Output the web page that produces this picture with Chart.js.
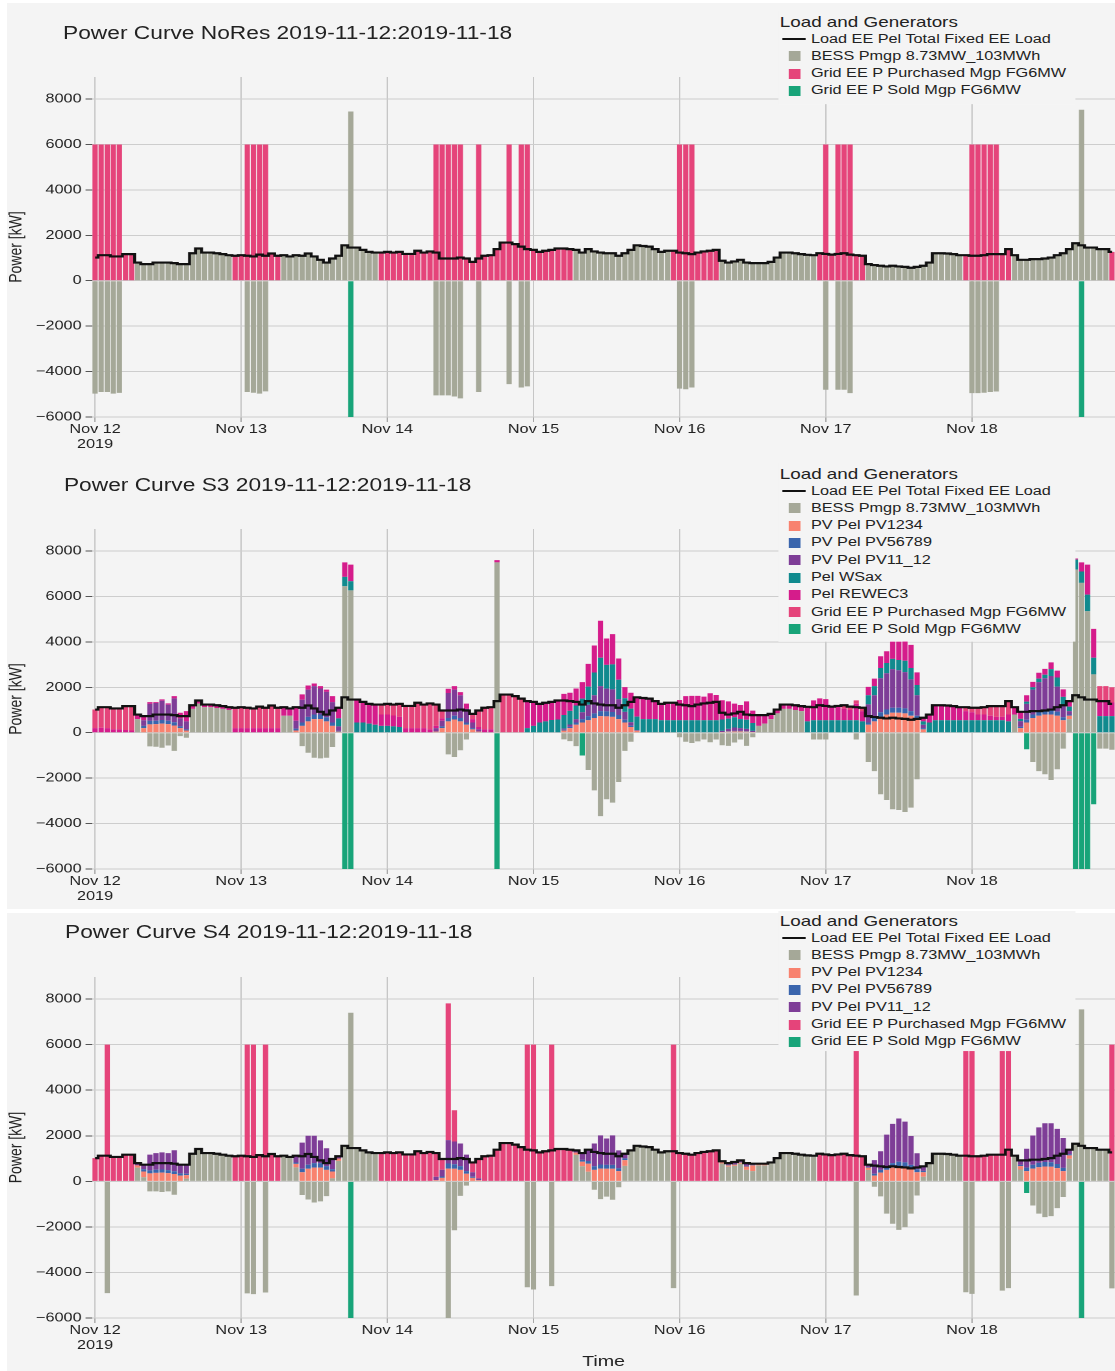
<!DOCTYPE html>
<html>
<head>
<meta charset="utf-8">
<script src="https://cdn.jsdelivr.net/npm/chart.js@4.4.1/dist/chart.umd.min.js"></script>
<style>
  html, body { margin:0; padding:0; background:#ffffff; width:1115px; height:1371px; overflow:hidden;
    font-family:"Liberation Sans", Arial, Helvetica, sans-serif; color:#222; }
  .panel { position:absolute; left:7px; width:1108px; background:#f4f4f4; }
  .wrap { position:absolute; left:0; width:858px; transform:scaleX(1.29953); transform-origin:0 0; }
  .wrap canvas { position:absolute; left:0; top:0; }
  .title { position:absolute; font-size:17.5px; line-height:18px; white-space:nowrap; color:#222; }
  .legend { position:absolute; left:598.5px; width:228.5px; background:#f4f4f4; }
  .lg-title { position:absolute; left:1.5px; font-size:14.5px; line-height:15px; white-space:nowrap; color:#222; }
  .lg-row { position:absolute; left:0; width:100%; height:17px; }
  .lg-row .t { position:absolute; left:25.5px; top:1px; font-size:12.5px; line-height:15px; white-space:nowrap; color:#222; }
  .lg-row .sw { position:absolute; left:8.5px; top:3.5px; width:9px; height:10px; }
  .lg-row .ln { position:absolute; left:3px; top:7.5px; width:18.5px; height:2px; background:#111; }
</style>
</head>
<body>
<div class="panel" style="top:3px;height:452px"></div>
<div class="panel" style="top:455px;height:454px"></div>
<div class="panel" style="top:913px;height:458px"></div>

<div class="wrap" id="w1" style="top:0px;height:455px">
  <canvas id="c1" width="858" height="455"></canvas>
  <div class="title" style="left:48.5px;top:24px">Power Curve NoRes 2019-11-12:2019-11-18</div>
</div>
<div class="wrap" id="w2" style="top:455px;height:452px">
  <canvas id="c2" width="858" height="452"></canvas>
  <div class="title" style="left:49.2px;top:21px">Power Curve S3 2019-11-12:2019-11-18</div>
</div>
<div class="wrap" id="w3" style="top:910px;height:461px">
  <canvas id="c3" width="858" height="461"></canvas>
  <div class="title" style="left:50px;top:13px">Power Curve S4 2019-11-12:2019-11-18</div>
</div>

<script>
// ---------- time axis ----------
const dayLabels = [['Nov 12', '2019'], 'Nov 13', 'Nov 14', 'Nov 15', 'Nov 16', 'Nov 17', 'Nov 18'];
const powerTicks = [-6000, -4000, -2000, 0, 2000, 4000, 6000, 8000];
const hourLabels = [];
for (let d = 0; d < 7; d++) {
  for (let h = 0; h < 24; h++) {
    hourLabels.push('2019-11-' + (12 + d) + ' ' + String(h).padStart(2, '0') + ':00');
  }
}

// ---------- hourly load, kW (Nov 12 .. Nov 18, one row per day) ----------
const load = [
  1020,1125,1125,1070,1070,1170,1170,800,730,730,800,800,800,775,730,730,1210,1420,1240,1240,1210,1170,1125,1100,
  1125,1100,1070,1150,1100,1200,1100,1125,1070,1125,1100,1200,1070,920,800,980,1100,1560,1460,1460,1360,1270,1240,1240,
  1270,1240,1270,1180,1180,1320,1240,1290,1240,980,980,980,1020,980,830,980,1100,1125,1390,1680,1680,1610,1500,1390,
  1360,1270,1320,1360,1420,1420,1390,1360,1240,1390,1290,1240,1210,1210,1100,1210,1360,1560,1530,1500,1390,1270,1320,1320,
  1240,1210,1170,1240,1290,1320,1360,880,800,850,920,800,775,775,775,830,1020,1240,1240,1210,1170,1140,1125,1210,
  1180,1150,1180,1210,1150,1125,1100,730,690,660,630,660,630,610,570,610,660,800,1210,1210,1200,1170,1125,1125,
  1100,1100,1125,1170,1170,1170,1390,1125,920,920,950,950,980,1020,1125,1210,1390,1650,1560,1460,1460,1390,1390,1270
];

// ---------- scenario NoRes ----------
const noresBess = [
  -4970,-4900,-4900,-4970,-4940,0,0,800,730,730,800,800,800,775,730,730,1210,1420,1240,1240,1210,1170,1125,0,
  0,-4900,-4930,-4970,-4870,0,0,1125,1070,1125,1100,1200,1070,920,800,980,1100,1560,7450,1460,1360,1270,1240,0,
  0,0,0,0,0,0,0,0,-5050,-5050,-5050,-5100,-5180,0,0,-4900,0,0,0,0,-4550,0,-4700,-4650,
  0,0,0,0,0,0,0,1360,1240,1390,1290,1240,1210,1210,1100,1210,1360,1560,1530,1500,1390,1270,1320,0,
  -4750,-4780,-4700,0,0,0,0,880,800,850,920,800,775,775,775,830,1020,1240,1240,1210,1170,1140,1125,0,
  -4800,0,-4800,-4800,-4950,0,0,730,690,660,630,660,630,610,570,610,660,800,1210,1210,1200,1170,1125,0,
  -4950,-4950,-4930,-4900,-4880,0,0,1125,920,920,950,950,980,1020,1125,1210,1390,1650,7530,1460,1460,1390,1390,0
];
const noresPurchased = [
  6000,6000,6000,6000,6000,1170,1170,0,0,0,0,0,0,0,0,0,0,0,0,0,0,0,0,1100,
  1125,6000,6000,6000,6000,1200,1100,0,0,0,0,0,0,0,0,0,0,0,0,0,0,0,0,1240,
  1270,1240,1270,1180,1180,1320,1240,1290,6000,6000,6000,6000,6000,980,830,6000,1100,1125,1390,1680,6000,1610,6000,6000,
  1360,1270,1320,1360,1420,1420,1390,0,0,0,0,0,0,0,0,0,0,0,0,0,0,0,0,1320,
  6000,6000,6000,1240,1290,1320,1360,0,0,0,0,0,0,0,0,0,0,0,0,0,0,0,0,1210,
  6000,1150,6000,6000,6000,1125,1100,0,0,0,0,0,0,0,0,0,0,0,0,0,0,0,0,1125,
  6000,6000,6000,6000,6000,1170,1390,0,0,0,0,0,0,0,0,0,0,0,0,0,0,0,0,1270
];
const noresSold = [
  0,0,0,0,0,0,0,0,0,0,0,0,0,0,0,0,0,0,0,0,0,0,0,0,
  0,0,0,0,0,0,0,0,0,0,0,0,0,0,0,0,0,0,-6000,0,0,0,0,0,
  0,0,0,0,0,0,0,0,0,0,0,0,0,0,0,0,0,0,0,0,0,0,0,0,
  0,0,0,0,0,0,0,0,0,0,0,0,0,0,0,0,0,0,0,0,0,0,0,0,
  0,0,0,0,0,0,0,0,0,0,0,0,0,0,0,0,0,0,0,0,0,0,0,0,
  0,0,0,0,0,0,0,0,0,0,0,0,0,0,0,0,0,0,0,0,0,0,0,0,
  0,0,0,0,0,0,0,0,0,0,0,0,0,0,0,0,0,0,-6000,0,0,0,0,0
];

// ---------- scenario S3 ----------
const s3Bess = [
  0,0,0,0,0,0,0,600,0,-600,-620,-660,-560,-800,-150,-220,1050,1280,1120,1120,1090,1050,1000,0,
  0,0,0,0,0,0,0,750,750,0,-590,-880,-1100,-1130,-1100,-630,0,6450,6270,0,0,0,0,0,
  0,0,0,0,0,0,0,0,0,0,-955,-1070,-770,-300,0,0,0,0,7500,0,0,0,0,0,
  0,0,0,0,0,-290,-370,-590,0,-1640,-2540,-3670,-2930,-3080,-2170,-800,-400,0,0,0,0,0,0,0,
  -200,-400,-450,-380,-300,-420,-300,-550,-580,-430,-300,-580,-200,300,400,600,850,1050,1050,1000,950,0,-300,-300,
  -300,0,0,0,0,-300,0,-1290,-1690,-2710,-2960,-3370,-3400,-3490,-3300,-2050,0,0,0,0,0,0,0,0,
  0,0,0,0,0,0,0,800,0,0,-1290,-1690,-1830,-2080,-1610,-700,600,7180,6600,5350,2570,-700,-700,-750
];
const s3Pv1234 = [
  0,0,0,0,0,0,0,0,200,370,380,400,380,320,200,100,0,0,0,0,0,0,0,0,
  0,0,0,0,0,0,0,0,0,100,300,500,600,600,500,300,50,0,0,0,0,0,0,0,
  0,0,0,0,0,0,0,0,50,200,500,580,500,350,150,50,0,0,0,0,0,0,0,0,
  0,0,0,0,0,100,200,350,450,550,650,730,720,700,600,450,250,80,0,0,0,0,0,0,
  0,0,0,0,0,0,0,30,50,60,60,50,30,0,0,0,0,0,0,0,0,0,0,0,
  0,0,0,0,0,0,0,350,500,700,800,880,880,850,750,600,150,0,0,0,0,0,0,0,
  0,0,0,0,0,0,0,0,200,450,650,750,800,800,750,550,150,0,0,0,0,0,0,0
];
const s3Pv56789 = [
  0,0,0,0,0,0,0,0,100,150,150,160,150,140,80,50,0,0,0,0,0,0,0,0,
  0,0,0,0,0,0,0,0,0,80,150,200,200,200,180,150,30,0,0,0,0,0,0,0,
  0,0,0,0,0,0,0,0,0,80,150,170,150,100,50,0,0,0,0,0,0,0,0,0,
  0,0,0,0,0,30,60,100,150,180,200,220,220,210,180,120,60,0,0,0,0,0,0,0,
  0,0,0,0,0,0,0,0,20,20,20,20,0,0,0,0,0,0,0,0,0,0,0,0,
  0,0,0,0,0,0,0,100,150,200,220,220,220,220,200,150,50,0,0,0,0,0,0,0,
  0,0,0,0,0,0,0,0,60,120,150,180,200,200,180,130,50,0,0,0,0,0,0,0
];
const s3Pv11_12 = [
  0,0,0,0,0,0,0,0,250,750,780,850,700,1050,350,350,0,0,0,0,0,0,0,0,
  0,0,0,0,0,0,0,0,0,350,1000,1200,1250,1150,1120,900,200,0,0,0,0,0,0,0,
  0,0,0,0,0,0,0,0,150,250,1100,1150,1000,600,250,100,0,0,0,0,0,0,0,0,
  0,0,0,0,0,50,100,150,300,500,800,1100,1000,1000,700,350,150,30,0,0,0,0,0,0,
  0,0,0,0,0,0,0,50,100,150,120,100,50,0,0,0,0,0,0,0,0,0,0,0,
  0,0,0,0,0,0,0,800,1000,1500,1600,1700,1650,1600,1400,900,150,0,0,0,0,0,0,0,
  0,0,0,0,0,0,0,0,250,700,1100,1300,1400,1500,1100,500,150,0,0,0,0,0,0,0
];
const s3WSax = [
  0,0,0,0,0,0,0,0,0,0,0,0,0,0,0,0,0,0,0,0,0,0,0,0,
  0,0,0,0,0,0,0,0,0,0,0,0,0,0,0,0,350,410,400,450,450,400,350,300,
  300,280,250,0,0,0,0,0,0,0,0,0,0,0,0,0,0,0,0,0,0,0,0,200,
  300,450,500,560,580,600,600,600,600,800,1000,1250,1050,1100,850,600,600,600,600,600,600,550,550,550,
  550,550,550,550,550,550,550,500,450,450,400,400,350,0,0,0,0,0,0,0,0,500,550,550,
  550,550,550,550,550,550,500,400,400,450,450,450,450,500,500,450,150,450,550,550,550,550,550,550,
  550,550,550,550,550,550,500,0,100,100,100,150,150,300,400,400,200,440,500,730,730,730,730,730
];
const s3Rewec3 = [
  200,220,200,150,150,120,100,200,180,80,40,60,60,100,250,450,160,140,120,120,120,120,125,200,
  200,200,200,200,200,200,200,375,320,600,240,180,120,100,100,260,470,640,730,1010,910,870,890,500,
  500,480,450,200,200,200,200,150,100,100,185,150,140,230,150,100,150,150,100,0,0,0,0,1190,
  1060,820,820,800,840,930,800,750,730,1000,1190,1630,1160,1330,940,490,700,850,930,900,790,720,770,770,
  890,1060,1070,1070,1040,1190,1110,850,760,600,620,810,545,475,375,230,170,190,190,210,220,640,875,960,
  930,600,630,510,450,725,450,370,330,520,520,780,830,930,1020,560,160,350,660,660,650,620,575,400,
  350,250,250,200,150,150,300,325,310,280,240,260,260,300,305,330,240,50,400,1320,1270,650,650,600
];
const s3Purchased = [
  820,905,925,920,920,1050,1070,0,0,0,0,0,0,0,0,0,0,0,0,0,0,0,0,900,
  925,900,870,950,900,1000,900,0,0,0,0,0,0,0,0,0,0,0,0,0,0,0,0,440,
  470,480,570,980,980,1120,1040,1140,940,350,0,0,0,0,230,730,950,975,0,1680,1680,1610,1500,0,
  0,0,0,0,0,0,0,0,0,0,0,0,0,0,0,0,0,0,0,0,0,0,0,0,
  0,0,0,0,0,0,0,0,0,0,0,0,0,0,0,0,0,0,0,0,0,0,0,0,
  0,0,0,150,150,150,150,0,0,0,0,0,0,0,0,0,0,0,0,0,0,0,0,175,
  200,300,325,420,470,470,590,0,0,0,0,0,0,0,0,0,0,0,0,0,0,670,670,670
];
const s3Sold = [
  0,0,0,0,0,0,0,0,0,0,0,0,0,0,0,0,0,0,0,0,0,0,0,0,
  0,0,0,0,0,0,0,0,0,0,0,0,0,0,0,0,0,-6000,-6000,0,0,0,0,0,
  0,0,0,0,0,0,0,0,0,0,0,0,0,0,0,0,0,0,-6000,0,0,0,0,0,
  0,0,0,0,0,0,0,0,-1000,0,0,0,0,0,0,0,0,0,0,0,0,0,0,0,
  0,0,0,0,0,0,0,0,0,0,0,0,0,0,0,0,0,0,0,0,0,0,0,0,
  0,0,0,0,0,0,0,0,0,0,0,0,0,0,0,0,0,0,0,0,0,0,0,0,
  0,0,0,0,0,0,0,0,0,-730,0,0,0,0,0,0,0,-6000,-6000,-6000,-3150,0,0,0
];

// ---------- scenario S4 ----------
const s4Bess = [
  0,0,-4910,0,0,0,0,600,180,-440,-440,-470,-440,-590,0,120,1210,1420,1240,1240,1210,1170,1125,0,
  0,-4920,-4950,0,-4880,0,0,1125,1070,615,-600,-800,-930,-880,-650,130,900,1560,7400,1460,1360,1270,1240,0,
  0,0,0,0,0,0,0,0,0,0,-6000,-2150,-640,-190,0,0,0,0,0,0,0,0,0,-4650,
  -4750,0,0,-4600,0,0,0,1160,660,420,-370,-780,-670,-810,-260,680,1360,1560,1530,1500,1390,1270,1320,-4690,
  0,0,0,0,0,0,0,780,640,680,770,500,450,700,700,780,1020,1240,1240,1210,1170,1140,1125,0,
  0,0,0,0,0,-5010,0,500,-240,-660,-1420,-1860,-2130,-2010,-1420,-620,200,800,1210,1210,1200,1170,1125,-4870,
  -4940,0,0,0,0,-4800,-4690,1125,520,0,-1060,-1420,-1570,-1530,-1175,-690,990,1650,7550,1460,1460,1390,1390,-4700
];
const s4Pv1234 = [
  0,0,0,0,0,0,0,100,250,350,370,380,360,320,250,150,0,0,0,0,0,0,0,0,
  0,0,0,0,0,0,0,0,0,150,400,550,600,600,500,300,100,0,0,0,0,0,0,0,
  0,0,0,0,0,0,0,0,50,150,560,550,500,330,150,50,0,0,0,0,0,0,0,0,
  0,0,0,0,0,0,0,100,200,350,500,560,550,550,450,250,0,0,0,0,0,0,0,0,
  0,0,0,0,0,0,0,50,60,60,50,150,250,50,50,30,0,0,0,0,0,0,0,0,
  0,0,0,0,0,0,0,100,250,380,500,600,650,630,550,400,200,0,0,0,0,0,0,0,
  0,0,0,0,0,0,0,0,150,450,560,620,650,640,580,450,150,0,0,0,0,0,0,0
];
const s4Pv56789 = [
  0,0,0,0,0,0,0,0,100,130,140,140,130,120,100,60,0,0,0,0,0,0,0,0,
  0,0,0,0,0,0,0,0,0,60,150,180,200,200,170,100,0,0,0,0,0,0,0,0,
  0,0,0,0,0,0,0,0,0,60,220,200,170,120,50,0,0,0,0,0,0,0,0,0,
  0,0,0,0,0,0,0,0,80,120,160,180,170,170,130,80,0,0,0,0,0,0,0,0,
  0,0,0,0,0,0,0,0,20,20,20,30,20,0,0,0,0,0,0,0,0,0,0,0,
  0,0,0,0,0,0,0,30,80,120,170,200,210,200,170,130,60,0,0,0,0,0,0,0,
  0,0,0,0,0,0,0,0,50,150,170,190,200,200,180,140,50,0,0,0,0,0,0,0
];
const s4Pv11_12 = [
  0,0,0,0,0,0,0,100,200,690,730,750,750,925,380,400,0,0,0,0,0,0,0,0,
  0,0,0,0,0,0,0,0,0,300,1150,1270,1200,1000,780,450,100,0,0,0,0,0,0,0,
  0,0,0,0,0,0,0,0,150,300,1030,1000,990,720,200,80,0,0,0,0,0,0,0,0,
  0,0,0,0,0,0,0,100,300,500,1000,1280,1160,1300,780,200,0,0,0,0,0,0,0,0,
  0,0,0,0,0,0,0,50,80,90,80,120,55,25,25,20,0,0,0,0,0,0,0,0,
  0,0,0,0,0,0,0,100,600,820,1380,1720,1900,1790,1270,700,200,0,0,0,0,0,0,0,
  0,0,0,0,0,0,0,0,200,830,1280,1560,1700,1710,1540,1310,200,0,0,0,0,0,0,0
];
const s4Purchased = [
  1020,1125,6000,1070,1070,1170,1170,0,0,0,0,0,0,0,0,0,0,0,0,0,0,0,0,1100,
  1125,6000,6000,1150,6000,1200,1100,0,0,0,0,0,0,0,0,0,0,0,0,0,0,0,0,1240,
  1270,1240,1270,1180,1180,1320,1240,1290,1040,470,6000,1370,0,0,430,850,1100,1125,1390,1680,1680,1610,1500,6000,
  6000,1270,1320,6000,1420,1420,1390,0,0,0,0,0,0,0,0,0,0,0,0,0,0,0,0,6000,
  1240,1210,1170,1240,1290,1320,1360,0,0,0,0,0,0,0,0,0,0,0,0,0,0,0,0,1210,
  1180,1150,1180,1210,1150,6000,1100,0,0,0,0,0,0,0,0,0,0,0,0,0,0,0,0,6000,
  6000,1100,1125,1170,1170,6000,6000,0,0,0,0,0,0,0,0,0,0,0,0,0,0,0,0,6000
];
const s4Sold = [
  0,0,0,0,0,0,0,0,0,0,0,0,0,0,0,0,0,0,0,0,0,0,0,0,
  0,0,0,0,0,0,0,0,0,0,0,0,0,0,0,0,0,0,-6000,0,0,0,0,0,
  0,0,0,0,0,0,0,0,0,0,0,0,0,0,0,0,0,0,0,0,0,0,0,0,
  0,0,0,0,0,0,0,0,0,0,0,0,0,0,0,0,0,0,0,0,0,0,0,0,
  0,0,0,0,0,0,0,0,0,0,0,0,0,0,0,0,0,0,0,0,0,0,0,0,
  0,0,0,0,0,0,0,0,0,0,0,0,0,0,0,0,0,0,0,0,0,0,0,0,
  0,0,0,0,0,0,0,0,0,-510,0,0,0,0,0,0,0,0,-6000,0,0,0,0,0
];

// ---------- series names and colours ----------
const NAMES = {
  load: 'Load EE Pel Total Fixed EE Load',
  bess: 'BESS Pmgp 8.73MW_103MWh',
  pv1: 'PV Pel PV1234',
  pv5: 'PV Pel PV56789',
  pv11: 'PV Pel PV11_12',
  wsax: 'Pel WSax',
  rewec: 'Pel REWEC3',
  buy: 'Grid EE P Purchased Mgp FG6MW',
  sell: 'Grid EE P Sold Mgp FG6MW'
};
const COLORS = {
  load: '#111111', bess: '#a5a898', pv1: '#f8826f', pv5: '#3a65ad', pv11: '#7e3d97',
  wsax: '#108a8e', rewec: '#d51c8b', buy: '#e5447a', sell: '#18a479'
};

Chart.defaults.font.family = '"Liberation Sans", Arial, Helvetica, sans-serif';
Chart.defaults.color = '#222';

function lineSet(data) {
  return { type: 'line', label: NAMES.load, data: data, borderColor: COLORS.load, borderWidth: 2.2,
           pointRadius: 0, stepped: 'middle', fill: false, order: 0 };
}
function barSet(key, data) {
  return { type: 'bar', label: NAMES[key], data: data, backgroundColor: COLORS[key], borderWidth: 0,
           barPercentage: 0.86, categoryPercentage: 1.0, order: 1 };
}
const minus = v => (v < 0 ? '\u2212' + Math.abs(v) : String(v));

function buildChart(id, datasets, padTop, axisHeight, showTime) {
  return new Chart(document.getElementById(id), {
    type: 'bar',
    data: { labels: hourLabels, datasets: datasets },
    options: {
      responsive: false, animation: false, devicePixelRatio: 2,
      layout: { padding: { top: padTop, left: 0, right: 0, bottom: 0 } },
      plugins: { legend: { display: false }, tooltip: { enabled: false }, title: { display: false } },
      scales: {
        x: {
          type: 'category', stacked: true, offset: true,
          border: { display: false },
          grid: {
            offset: false, lineWidth: 1, drawTicks: true, tickLength: 5,
            color: c => (c.index % 24 === 0 ? '#c6c6c6' : 'rgba(0,0,0,0)'),
            tickColor: c => (c.index % 24 === 0 ? '#a8a8a8' : 'rgba(0,0,0,0)')
          },
          ticks: {
            autoSkip: false, maxRotation: 0, minRotation: 0, padding: 0, color: '#222',
            font: { size: 12.5, lineHeight: 1.2 },
            callback: (v, i) => (i % 24 === 0 ? dayLabels[i / 24] : '')
          },
          title: { display: showTime, text: 'Time', color: '#222', font: { size: 15 }, padding: { top: 0, bottom: 0 } },
          afterFit: s => { s.height = axisHeight; }
        },
        y: {
          stacked: true, min: -6000, max: 8970,
          border: { display: false },
          grid: { color: '#cdcdcd', lineWidth: 1, drawTicks: true, tickLength: 5, tickColor: '#555' },
          afterBuildTicks: s => { s.ticks = powerTicks.map(v => ({ value: v })); },
          ticks: { padding: 3, color: '#222', font: { size: 12.5 }, callback: v => minus(v) },
          title: { display: true, text: 'Power [kW]', color: '#222', font: { size: 14 }, padding: { top: 4, bottom: 4 } },
          afterFit: s => { s.width = 70.8; }
        }
      }
    }
  });
}

buildChart('c1', [
  lineSet(load), barSet('bess', noresBess), barSet('buy', noresPurchased), barSet('sell', noresSold)
], 77, 38, false);

buildChart('c2', [
  lineSet(load), barSet('bess', s3Bess), barSet('pv1', s3Pv1234), barSet('pv5', s3Pv56789),
  barSet('pv11', s3Pv11_12), barSet('wsax', s3WSax), barSet('rewec', s3Rewec3),
  barSet('buy', s3Purchased), barSet('sell', s3Sold)
], 74, 38, false);

buildChart('c3', [
  lineSet(load), barSet('bess', s4Bess), barSet('pv1', s4Pv1234), barSet('pv5', s4Pv56789),
  barSet('pv11', s4Pv11_12), barSet('buy', s4Purchased), barSet('sell', s4Sold)
], 67, 53, true);

// ---------- legends ----------
function buildLegend(wrapId, keys, titleY, firstRowY, boxTop, boxBottom) {
  const wrap = document.getElementById(wrapId);
  const box = document.createElement('div');
  box.className = 'legend';
  box.style.top = boxTop + 'px';
  box.style.height = (boxBottom - boxTop) + 'px';
  const t = document.createElement('div');
  t.className = 'lg-title';
  t.style.top = (titleY - boxTop - 7.5) + 'px';
  t.textContent = 'Load and Generators';
  box.appendChild(t);
  keys.forEach((k, i) => {
    const row = document.createElement('div');
    row.className = 'lg-row';
    row.style.top = (firstRowY + i * 17.3 - boxTop - 8.5) + 'px';
    const mark = document.createElement('div');
    if (k === 'load') { mark.className = 'ln'; }
    else { mark.className = 'sw'; mark.style.background = COLORS[k]; }
    const txt = document.createElement('span');
    txt.className = 't';
    txt.textContent = NAMES[k];
    row.appendChild(mark);
    row.appendChild(txt);
    box.appendChild(row);
  });
  wrap.appendChild(box);
}
buildLegend('w1', ['load', 'bess', 'buy', 'sell'], 22, 39, 11, 104);
buildLegend('w2', ['load', 'bess', 'pv1', 'pv5', 'pv11', 'wsax', 'rewec', 'buy', 'sell'], 19, 36, 8, 186);
buildLegend('w3', ['load', 'bess', 'pv1', 'pv5', 'pv11', 'buy', 'sell'], 11, 28, 1, 141);
</script>
</body>
</html>
